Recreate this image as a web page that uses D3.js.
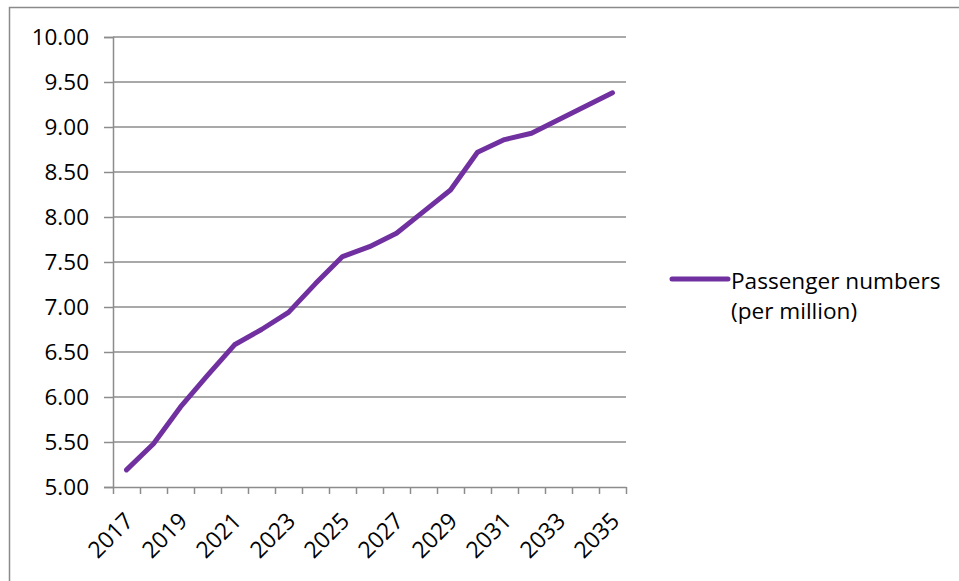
<!DOCTYPE html>
<html>
<head>
<meta charset="utf-8">
<script src="https://cdn.jsdelivr.net/npm/d3@7"></script>
<style>
  body { margin: 0; background: #fff; }
  text { font-family: "Open Sans", sans-serif; fill: #000; }
</style>
</head>
<body>
<div id="chart"></div>
<script>
// data
var years = ["2017","2018","2019","2020","2021","2022","2023","2024","2025","2026",
             "2027","2028","2029","2030","2031","2032","2033","2034","2035"];
var passengers = [5.19, 5.48, 5.89, 6.24, 6.58, 6.75, 6.94, 7.26, 7.56, 7.67,
                  7.82, 8.06, 8.30, 8.72, 8.86, 8.93, 9.08, 9.23, 9.38];
var yTicks = [5, 5.5, 6, 6.5, 7, 7.5, 8, 8.5, 9, 9.5, 10];
var seriesName = ["Passenger numbers", "(per million)"];

var svgWidth = 959;
var svgHeight = 581;
var margin = { top: 37, left: 113, right: 333, bottom: 94 };
var width = svgWidth - margin.left - margin.right;
var height = svgHeight - margin.top - margin.bottom;

var svg = d3.select("#chart").append("svg")
  .attr("width", svgWidth)
  .attr("height", svgHeight);

// outer chart border (runs off the right and bottom edge)
svg.append("rect")
  .attr("x", 9.5).attr("y", 7.5)
  .attr("width", 960).attr("height", 600)
  .attr("fill", "none")
  .attr("stroke", "#8a8a8a")
  .attr("stroke-width", 1.5);

var chartGroup = svg.append("g")
  .attr("transform", `translate(${margin.left}, ${margin.top})`);

var xScale = d3.scaleBand().domain(years).range([0, width]);
var yScale = d3.scaleLinear().domain([5, 10]).range([height, 0]);

// horizontal gridlines
chartGroup.selectAll("line.grid")
  .data(yTicks.slice(1))
  .enter().append("line")
  .attr("class", "grid")
  .attr("x1", 0).attr("x2", width)
  .attr("y1", d => yScale(d)).attr("y2", d => yScale(d))
  .attr("stroke", "#8c8c8c")
  .attr("stroke-width", 1.5);

// y axis
var leftAxis = d3.axisLeft(yScale)
  .tickValues(yTicks)
  .tickFormat(d3.format(".2f"))
  .tickSize(9)
  .tickPadding(15);
var yAxisG = chartGroup.append("g").call(leftAxis);
yAxisG.select(".domain").attr("stroke", "#8c8c8c").attr("stroke-width", 1.5);
yAxisG.selectAll(".tick line").attr("stroke", "#8c8c8c").attr("stroke-width", 1.5);
yAxisG.selectAll(".tick text")
  .attr("font-size", 22.5)
  .attr("font-family", "Open Sans, sans-serif");

// x axis: ticks sit between the categories, like Excel
var xEdge = d3.scaleLinear().domain([0, years.length]).range([0, width]);
var bottomAxis = d3.axisBottom(xEdge)
  .tickValues(d3.range(years.length + 1))
  .tickFormat("")
  .tickSize(7)
  .tickSizeOuter(0);
var xAxisG = chartGroup.append("g")
  .attr("transform", `translate(0, ${height})`)
  .call(bottomAxis);
xAxisG.select(".domain").attr("stroke", "#8c8c8c").attr("stroke-width", 1.5);
xAxisG.selectAll(".tick line").attr("stroke", "#8c8c8c").attr("stroke-width", 1.5);

// category labels every other year, rotated
chartGroup.selectAll("text.xlabel")
  .data(years.filter((d, i) => i % 2 === 0))
  .enter().append("text")
  .attr("class", "xlabel")
  .attr("text-anchor", "end")
  .attr("font-size", 23)
  .attr("transform", d => `translate(${xScale(d) + xScale.bandwidth() / 2 - 3}, ${height + 24}) rotate(-45)`)
  .attr("dy", "0.7em")
  .text(d => d);

// the series line
var line = d3.line()
  .x((d, i) => xScale(years[i]) + xScale.bandwidth() / 2)
  .y(d => yScale(d));

chartGroup.append("path")
  .datum(passengers)
  .attr("d", line)
  .attr("fill", "none")
  .attr("stroke", "#7030a0")
  .attr("stroke-width", 5)
  .attr("stroke-linejoin", "round")
  .attr("stroke-linecap", "round");

// legend
var legend = svg.append("g").attr("transform", "translate(672, 279)");
legend.append("line")
  .attr("x1", 0).attr("x2", 56)
  .attr("y1", 0).attr("y2", 0)
  .attr("stroke", "#7030a0")
  .attr("stroke-width", 5)
  .attr("stroke-linecap", "round");
legend.selectAll("text")
  .data(seriesName)
  .enter().append("text")
  .attr("x", 59)
  .attr("y", (d, i) => 10 + i * 30)
  .attr("font-size", 22.6)
  .text(d => d);
</script>
</body>
</html>
